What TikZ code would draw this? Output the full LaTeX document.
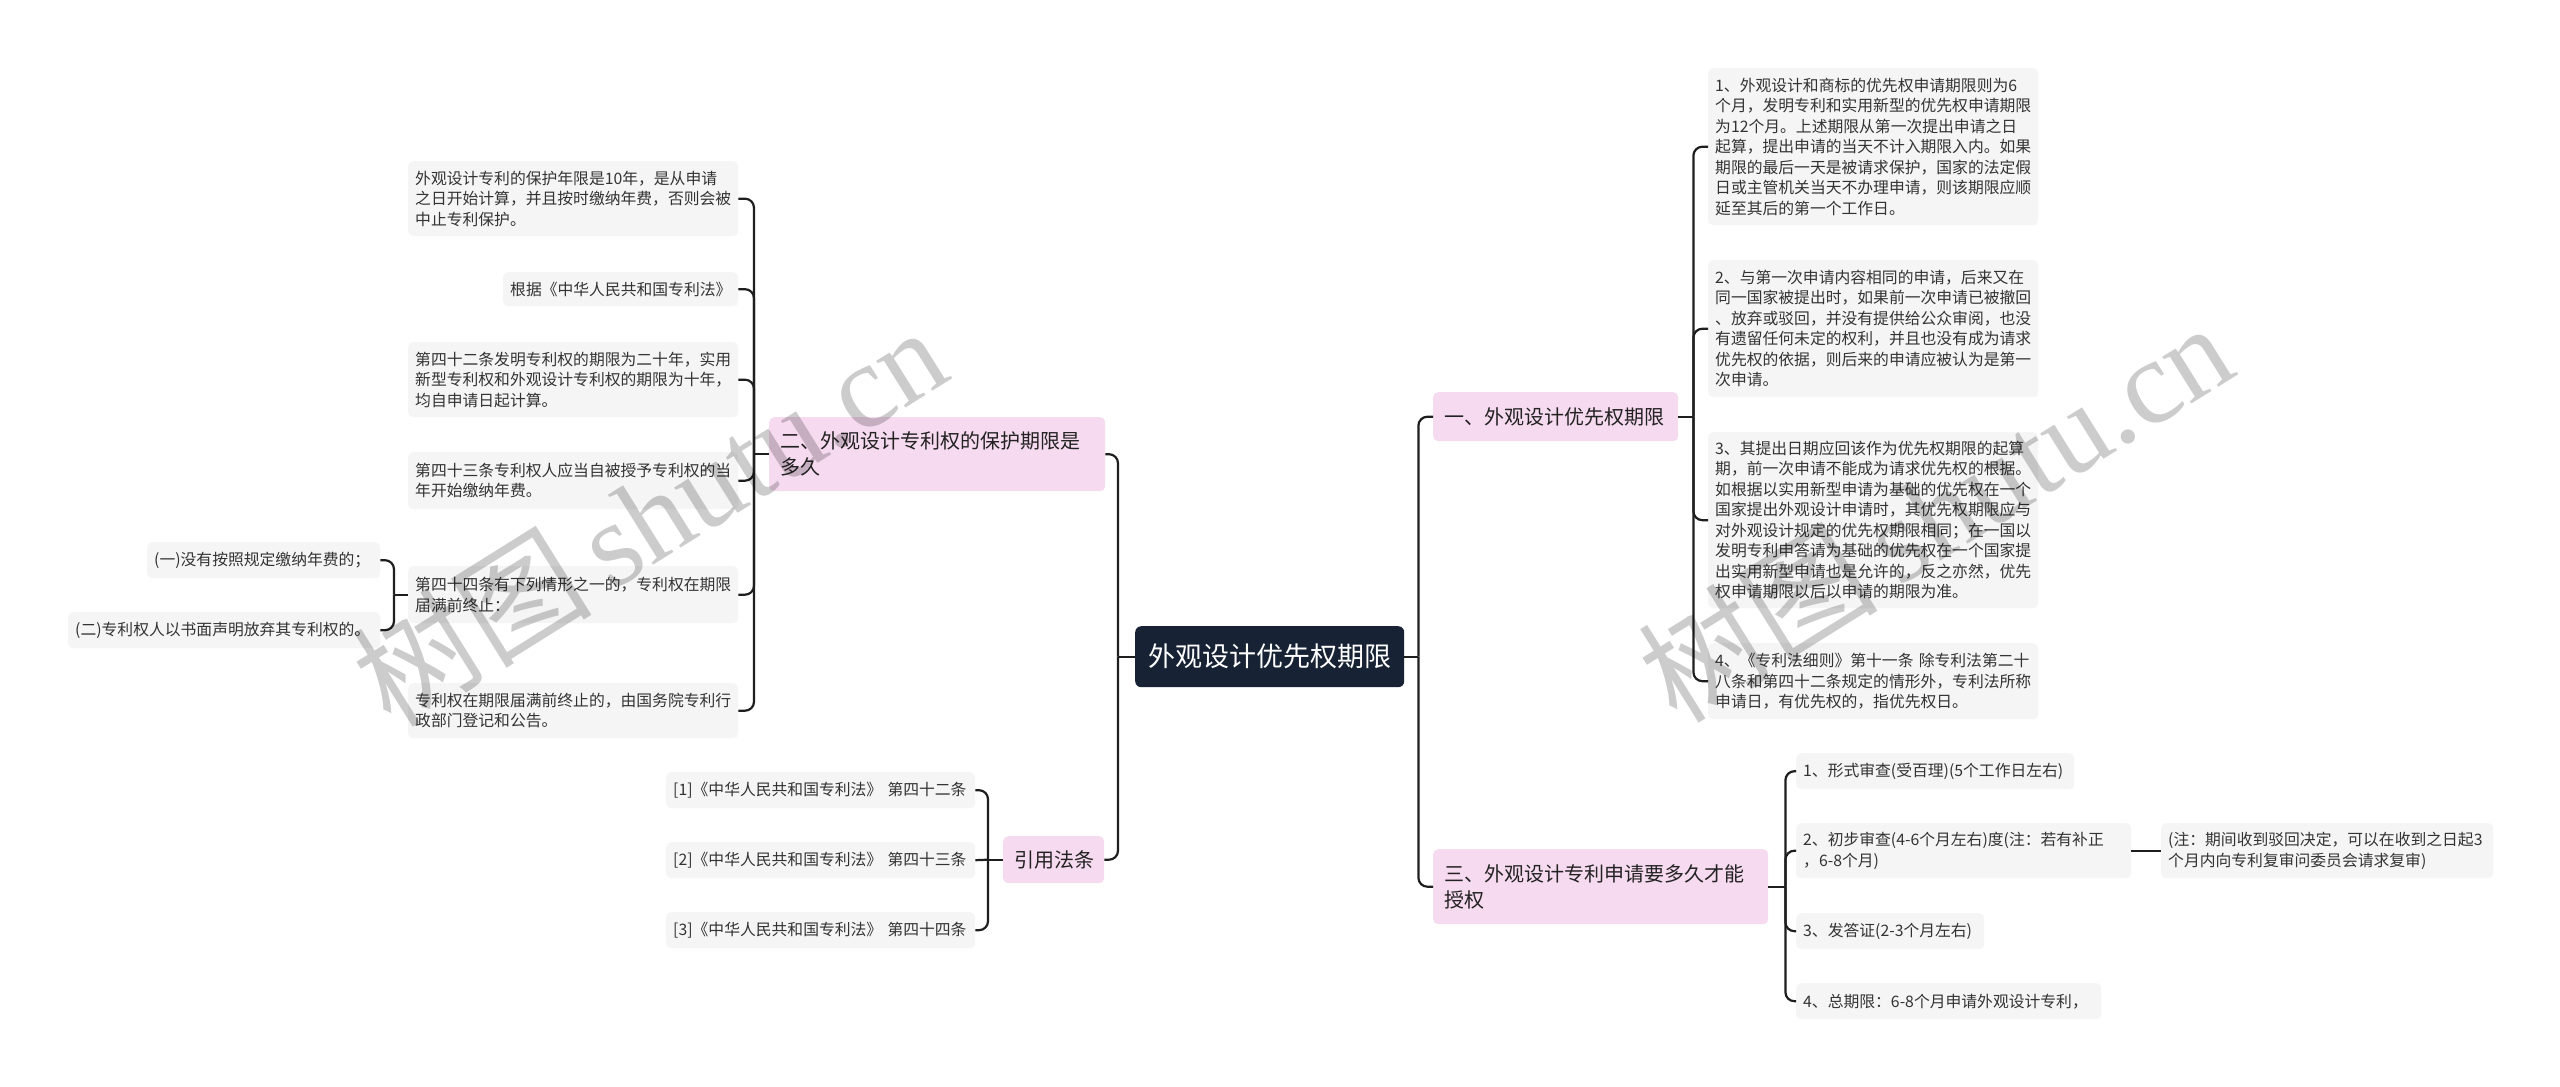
\documentclass[tikz,border=0pt]{standalone}
\usepackage{fontspec}
\setmainfont{Noto Sans CJK SC}
\newfontfamily\wmserif{Liberation Serif}
\newfontfamily\wmcjk{Noto Sans CJK SC}
\definecolor{rootfill}{HTML}{172335}
\definecolor{pinkfill}{HTML}{F6DAEF}
\definecolor{leafgray}{HTML}{F5F5F5}
\definecolor{leaftext}{HTML}{333333}
\definecolor{branchtext}{HTML}{222222}
\definecolor{linecol}{HTML}{1E1E1E}
\begin{document}
\begin{tikzpicture}[x=1pt,y=1pt,
  box/.style={anchor=north west, rounded corners=5pt, align=left, inner ysep=0pt},
  leaf/.style={box, fill=leafgray, text=leaftext, inner xsep=7pt, font=\fontsize{15.8}{20.5}\selectfont},
  branch/.style={box, fill=pinkfill, text=branchtext, inner xsep=11pt, font=\fontsize{20}{26}\selectfont},
  rootbox/.style={anchor=north west, rounded corners=6pt, fill=rootfill, text=white, align=center, inner sep=0pt, font=\fontsize{27}{32}\selectfont},
  conn/.style={draw=linecol, line width=2.2pt},
  elbow/.style={conn, rounded corners=9pt},
  wm/.style={rotate=32, text=black, text opacity=0.2, inner sep=0pt}
]
\fill[white] (0,0) rectangle (2560,-1087);
\useasboundingbox (0,0) rectangle (2560,-1087);

% root and branches
\node[rootbox, minimum width=269pt, minimum height=61pt] (root) at (1135,-626) {外观设计优先权期限};
\node[branch, text width=223pt, minimum height=49pt] (b1) at (1433,-392) {一、外观设计优先权期限};
\node[branch, text width=313pt, minimum height=75pt] (b3) at (1433,-849) {三、外观设计专利申请要多久才能\\授权};
\node[branch, text width=314pt, minimum height=74pt] (b2) at (769,-417) {二、外观设计专利权的保护期限是\\多久};
\node[branch, text width=79pt, minimum height=47pt] (cite) at (1003,-836) {引用法条};

% right leaves of b1
\node[leaf, text width=316pt, minimum height=157pt] (R1) at (1708,-68) {1、外观设计和商标的优先权申请期限则为6\\个月，发明专利和实用新型的优先权申请期限\\为12个月。上述期限从第一次提出申请之日\\起算，提出申请的当天不计入期限入内。如果\\期限的最后一天是被请求保护，国家的法定假\\日或主管机关当天不办理申请，则该期限应顺\\延至其后的第一个工作日。};
\node[leaf, text width=316pt, minimum height=137pt] (R2) at (1708,-260) {2、与第一次申请内容相同的申请，后来又在\\同一国家被提出时，如果前一次申请已被撤回\\、放弃或驳回，并没有提供给公众审阅，也没\\有遗留任何未定的权利，并且也没有成为请求\\优先权的依据，则后来的申请应被认为是第一\\次申请。};
\node[leaf, text width=316pt, minimum height=176pt] (R3) at (1708,-432) {3、其提出日期应回该作为优先权期限的起算\\期，前一次申请不能成为请求优先权的根据。\\如根据以实用新型申请为基础的优先权在一个\\国家提出外观设计申请时，其优先权期限应与\\对外观设计规定的优先权期限相同；在一国以\\发明专利申答请为基础的优先权在一个国家提\\出实用新型申请也是允许的，反之亦然，优先\\权申请期限以后以申请的期限为准。};
\node[leaf, text width=316pt, minimum height=76pt] (R4) at (1708,-643) {4、《专利法细则》第十一条~除专利法第二十\\八条和第四十二条规定的情形外，专利法所称\\申请日，有优先权的，指优先权日。};

% right leaves of b3
\node[leaf, text width=264pt, minimum height=36pt] (T1) at (1796,-753) {1、形式审查(受百理)(5个工作日左右)};
\node[leaf, text width=321pt, minimum height=55pt] (T2) at (1796,-823) {2、初步审查(4-6个月左右)度(注：若有补正\\，6-8个月)};
\node[leaf, text width=318pt, minimum height=55pt] (T2n) at (2161,-823) {(注：期间收到驳回决定，可以在收到之日起3\\个月内向专利复审问委员会请求复审)};
\node[leaf, text width=174pt, minimum height=36pt] (T3) at (1796,-913) {3、发答证(2-3个月左右)};
\node[leaf, text width=291pt, minimum height=36pt] (T4) at (1796,-983) {4、总期限：6-8个月申请外观设计专利，};

% left leaves of b2
\node[leaf, text width=316pt, minimum height=75pt] (L1) at (408,-161) {外观设计专利的保护年限是10年，是从申请\\之日开始计算，并且按时缴纳年费，否则会被\\中止专利保护。};
\node[leaf, text width=221pt, minimum height=34pt] (L2) at (503,-272) {根据《中华人民共和国专利法》};
\node[leaf, text width=316pt, minimum height=75pt] (L3) at (408,-342) {第四十二条发明专利权的期限为二十年，实用\\新型专利权和外观设计专利权的期限为十年，\\均自申请日起计算。};
\node[leaf, text width=316pt, minimum height=57pt] (L4) at (408,-452) {第四十三条专利权人应当自被授予专利权的当\\年开始缴纳年费。};
\node[leaf, text width=316pt, minimum height=57pt] (L5) at (408,-566) {第四十四条有下列情形之一的，专利权在期限\\届满前终止：};
\node[leaf, text width=316pt, minimum height=55pt] (L6) at (408,-683) {专利权在期限届满前终止的，由国务院专利行\\政部门登记和公告。};
\node[leaf, text width=219pt, minimum height=36pt] (S1) at (147,-542) {(一)没有按照规定缴纳年费的；};
\node[leaf, text width=298pt, minimum height=36pt] (S2) at (68,-612) {(二)专利权人以书面声明放弃其专利权的。};

% citations
\node[leaf, text width=295pt, minimum height=36pt] (C1) at (666,-772) {[1]《中华人民共和国专利法》~第四十二条};
\node[leaf, text width=295pt, minimum height=36pt] (C2) at (666,-842) {[2]《中华人民共和国专利法》~第四十三条};
\node[leaf, text width=295pt, minimum height=36pt] (C3) at (666,-912) {[3]《中华人民共和国专利法》~第四十四条};

% connectors
\draw[conn] (root.west) -- ++(-17,0) coordinate (jL);
\draw[elbow] (jL) |- (b2.east);
\draw[elbow] (jL) |- (cite.east);
\draw[conn] (root.east) -- ++(14,0) coordinate (jR);
\draw[elbow] (jR) |- (b1.west);
\draw[elbow] (jR) |- (b3.west);
\draw[conn] (b1.east) -- ++(15,0) coordinate (j1);
\foreach \n in {R1,R2,R3,R4} \draw[elbow] (j1) |- (\n.west);
\draw[conn] (b3.east) -- ++(17,0) coordinate (j3);
\foreach \n in {T1,T2,T3,T4} \draw[elbow] (j3) |- (\n.west);
\draw[conn] (T2.east) -- (T2n.west);
\draw[conn] (b2.west) -- ++(-15,0) coordinate (j2);
\foreach \n in {L1,L2,L3,L4,L5,L6} \draw[elbow] (j2) |- (\n.east);
\draw[conn] (L5.west) -- ++(-14,0) coordinate (j5);
\draw[elbow] (j5) |- (S1.east);
\draw[elbow] (j5) |- (S2.east);
\draw[conn] (cite.west) -- ++(-15,0) coordinate (jc);
\draw[elbow] (jc) |- (C1.east);
\draw[conn] (jc) -- (C2.east);
\draw[elbow] (jc) |- (C3.east);

% watermarks
\node[wm] (wm1) at (649,-515) {\fontsize{120}{120}\selectfont\wmcjk 树图\,{\wmserif shutu.cn}};
\node[wm] (wm2) at (1935,-511) {\fontsize{120}{120}\selectfont\wmcjk 树图\,{\wmserif shutu.cn}};
\end{tikzpicture}
\end{document}
